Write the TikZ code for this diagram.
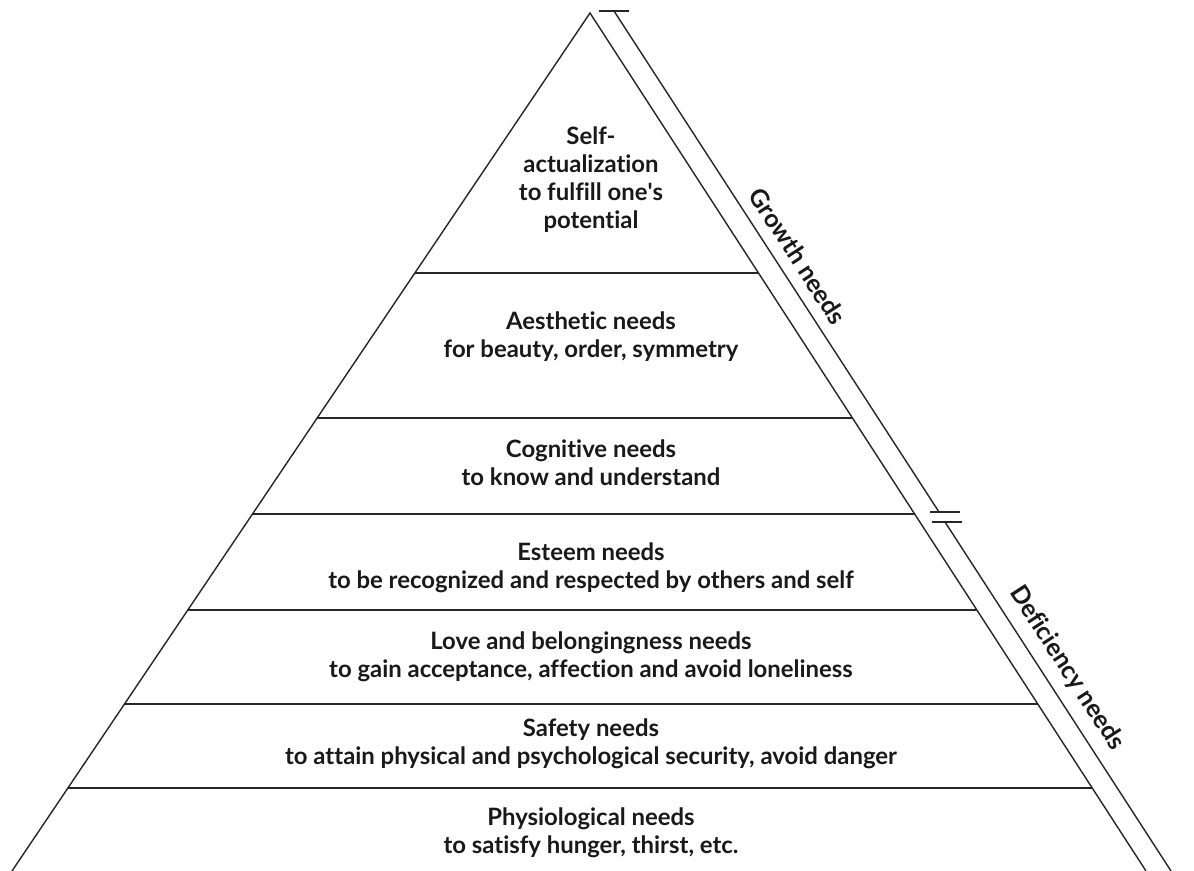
\documentclass[tikz,border=0pt]{standalone}
\usepackage{fontspec}
\setmainfont{Lato}[Ligatures=NoCommon]
\usetikzlibrary{calc}
\begin{document}
\begin{tikzpicture}[x=0.02cm,y=-0.02cm,
  edge/.style={draw=black!85, line width=0.8pt},
  lbl/.style={font=\bfseries\fontsize{13.6}{15.9}\selectfont, align=center, text=black!90, inner sep=0pt},
  sidelbl/.style={font=\bfseries\fontsize{14.2}{16}\selectfont, text=black!90, inner sep=0pt, rotate=-57}]
\useasboundingbox (0,0) rectangle (1194,871);
% pyramid corners
\coordinate (apex) at (590,13);
\coordinate (bl) at (12,871);
\coordinate (br) at (1146,871);
\draw[edge] (bl) -- (apex) -- (br);
% level lines
\foreach \n/\y in {1/273,2/418,3/514,4/610,5/704,6/788}{
  \pgfmathsetmacro{\t}{(\y-13)/858}
  \coordinate (L\n) at ($(apex)!\t!(bl)$);
  \coordinate (R\n) at ($(apex)!\t!(br)$);
  \draw[edge] (L\n) -- (R\n);
}
% side bracket line
\coordinate (g1) at (614,11);
\coordinate (g2) at (939,512);
\coordinate (d1) at (945,522);
\coordinate (d2) at (1171,871);
\coordinate (t0a) at (599,11);  \coordinate (t0b) at (629,11);
\coordinate (t1a) at (930,512); \coordinate (t1b) at (960,512);
\coordinate (t2a) at (932,522); \coordinate (t2b) at (962,522);
\draw[edge] (g1) -- (g2);
\draw[edge] (d1) -- (d2);
\draw[edge] (t0a) -- (t0b);
\draw[edge] (t1a) -- (t1b);
\draw[edge] (t2a) -- (t2b);
% labels
\node[lbl] (self) at (591,180) {Self-\\actualization\\to fulfill one\textquotesingle s\\potential};
\node[lbl] (aes) at (591,337) {Aesthetic needs\\for beauty, order, symmetry};
\node[lbl] (cog) at (591,463) {Cognitive needs\\to know and understand};
\node[lbl] (est) at (591,568) {Esteem needs\\to be recognized and respected by others and self};
\node[lbl] (love) at (591,657) {Love and belongingness needs\\to gain acceptance, affection and avoid loneliness};
\node[lbl] (safe) at (591,744) {Safety needs\\to attain physical and psychological security, avoid danger};
\node[lbl] (phys) at (591,833) {Physiological needs\\to satisfy hunger, thirst, etc.};
\node[sidelbl] (grow) at (798,256) {Growth needs};
\node[sidelbl] (def) at (1067,668) {Deficiency needs};
\end{tikzpicture}
\end{document}
